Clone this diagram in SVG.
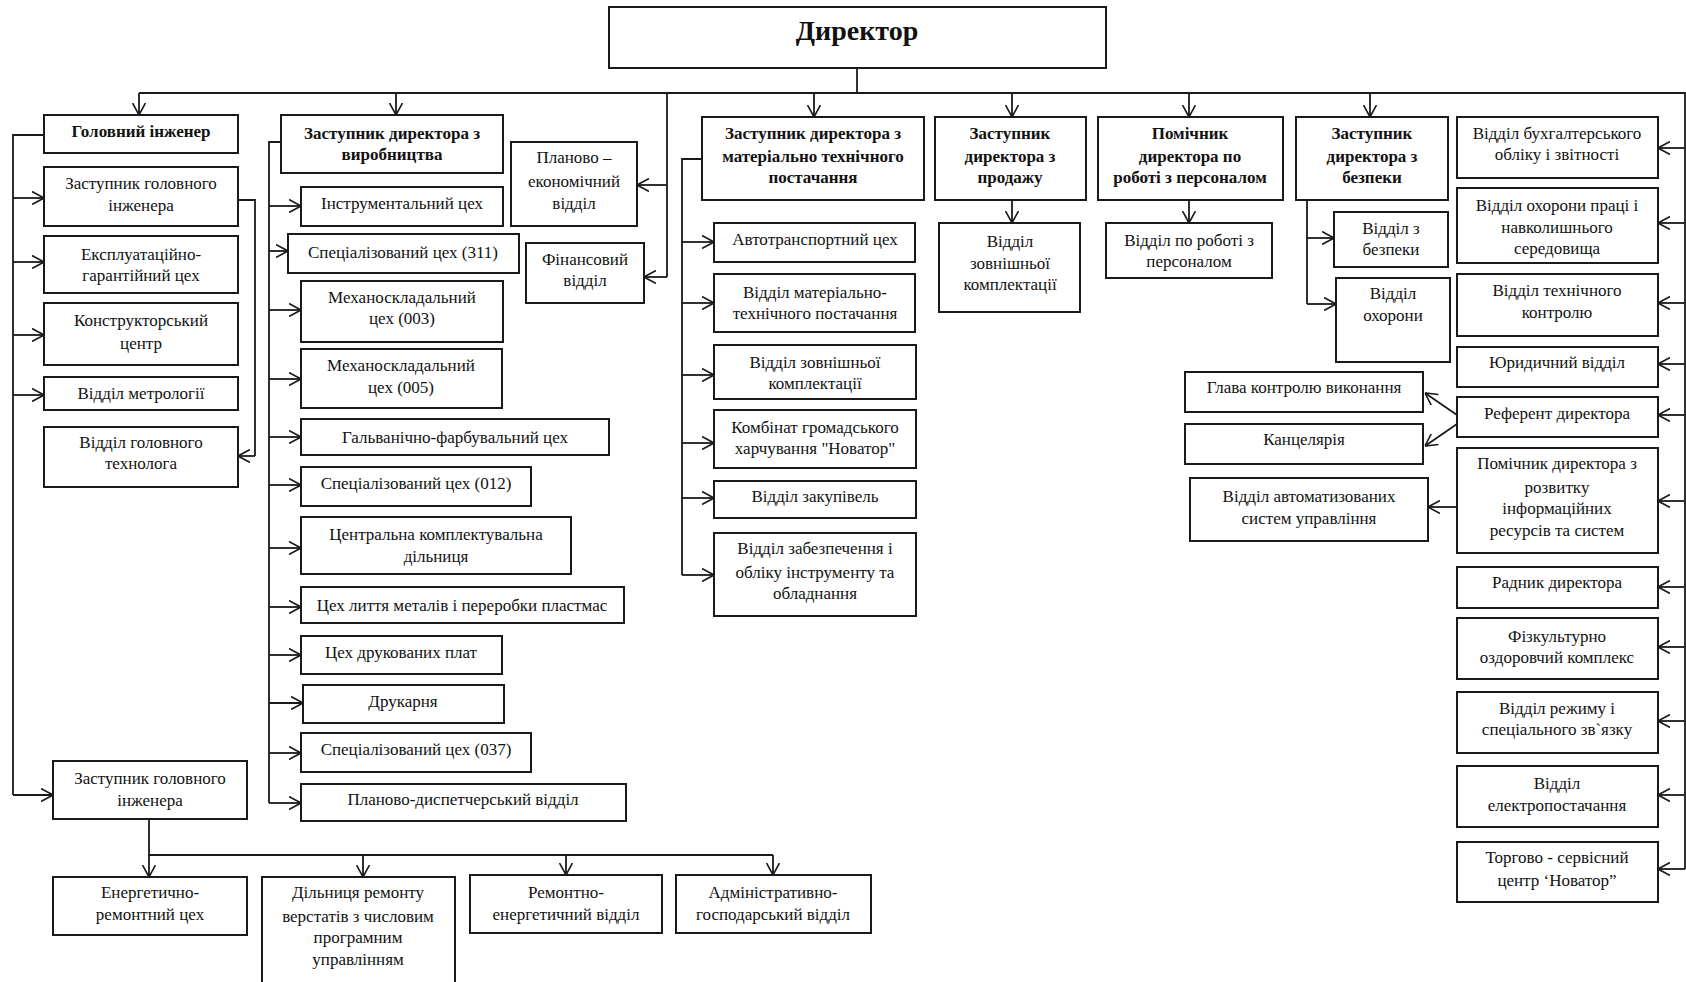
<svg xmlns="http://www.w3.org/2000/svg" width="1686" height="982" viewBox="0 0 1686 982">
<style>
.box{fill:#fff;stroke:#1a1a1a;stroke-width:2}
.t{font-family:"Liberation Serif","Times New Roman",serif;font-size:17px;text-anchor:middle;fill:#111}
.b{font-weight:bold}
.ln{stroke:#1a1a1a;stroke-width:1.8;fill:none}
.ar{marker-end:url(#ah)}
</style>
<defs>
<marker id="ah" viewBox="0 0 12 14" refX="12" refY="7" markerWidth="12" markerHeight="14" markerUnits="userSpaceOnUse" orient="auto">
<path d="M0,0.5 L12,7 L0,13.5" fill="none" stroke="#1a1a1a" stroke-width="1.6"/>
</marker>
</defs>
<rect width="1686" height="982" fill="#fff"/>
<g id="connectors">
<path class="ln" d="M857,68 V93"/>
<path class="ln" d="M139,93 H1685 V869"/>
<path class="ln ar" d="M139,93 V115"/>
<path class="ln ar" d="M396,93 V115"/>
<path class="ln ar" d="M814,93 V117"/>
<path class="ln ar" d="M1012,93 V117"/>
<path class="ln ar" d="M1189,93 V117"/>
<path class="ln ar" d="M1370,93 V117"/>
<path class="ln" d="M667,93 V277"/>
<path class="ln ar" d="M667,185 H637"/>
<path class="ln ar" d="M667,277 H644"/>
<path class="ln" d="M44,135 H13 V795"/>
<path class="ln ar" d="M13,198 H44"/>
<path class="ln ar" d="M13,262 H44"/>
<path class="ln ar" d="M13,335 H44"/>
<path class="ln ar" d="M13,395 H44"/>
<path class="ln ar" d="M13,795 H53"/>
<path class="ln" d="M238,200 H255 V456"/>
<path class="ln ar" d="M255,456 H238"/>
<path class="ln" d="M281,142 H269 V803"/>
<path class="ln ar" d="M269,206 H301"/>
<path class="ln ar" d="M269,251 H288"/>
<path class="ln ar" d="M269,310 H301"/>
<path class="ln ar" d="M269,379 H301"/>
<path class="ln ar" d="M269,437 H301"/>
<path class="ln ar" d="M269,485 H301"/>
<path class="ln ar" d="M269,548 H301"/>
<path class="ln ar" d="M269,607 H301"/>
<path class="ln ar" d="M269,655 H301"/>
<path class="ln ar" d="M269,703 H303"/>
<path class="ln ar" d="M269,753 H301"/>
<path class="ln ar" d="M269,803 H301"/>
<path class="ln" d="M702,159 H682 V575"/>
<path class="ln ar" d="M682,242 H714"/>
<path class="ln ar" d="M682,303 H714"/>
<path class="ln ar" d="M682,375 H714"/>
<path class="ln ar" d="M682,443 H714"/>
<path class="ln ar" d="M682,498 H714"/>
<path class="ln ar" d="M682,575 H714"/>
<path class="ln ar" d="M1012,200 V223"/>
<path class="ln ar" d="M1189,200 V223"/>
<path class="ln" d="M1307,200 V304"/>
<path class="ln ar" d="M1307,238 H1334"/>
<path class="ln ar" d="M1307,304 H1336"/>
<path class="ln ar" d="M1685,148 H1658"/>
<path class="ln ar" d="M1685,223 H1658"/>
<path class="ln ar" d="M1685,303 H1658"/>
<path class="ln ar" d="M1685,364 H1658"/>
<path class="ln ar" d="M1685,415 H1658"/>
<path class="ln ar" d="M1685,501 H1658"/>
<path class="ln ar" d="M1685,587 H1658"/>
<path class="ln ar" d="M1685,647 H1658"/>
<path class="ln ar" d="M1685,721 H1658"/>
<path class="ln ar" d="M1685,795 H1658"/>
<path class="ln ar" d="M1685,869 H1658"/>
<path class="ln ar" d="M1457,415 L1425,393"/>
<path class="ln ar" d="M1457,424 L1425,446"/>
<path class="ln ar" d="M1457,507 H1428"/>
<path class="ln" d="M149,819 V855 H773"/>
<path class="ln ar" d="M149,855 V877"/>
<path class="ln ar" d="M363,855 V877"/>
<path class="ln ar" d="M566,855 V875"/>
<path class="ln ar" d="M773,855 V875"/>
</g>
<g id="director"><rect class="box" x="609" y="7" width="497" height="61"/><text class="t b" x="857" y="40" style="font-size:28px">Директор</text></g>
<g id="gl_inzh"><rect class="box" x="44" y="115" width="194" height="38"/><text class="t b" x="141" y="137">Головний інженер</text></g>
<g id="zast_gl1"><rect class="box" x="44" y="167" width="194" height="59"/><text class="t" x="141" y="189">Заступник головного</text><text class="t" x="141" y="211">інженера</text></g>
<g id="ekspl"><rect class="box" x="44" y="236" width="194" height="57"/><text class="t" x="141" y="260">Експлуатаційно-</text><text class="t" x="141" y="281">гарантійний цех</text></g>
<g id="konstr"><rect class="box" x="44" y="303" width="194" height="62"/><text class="t" x="141" y="326">Конструкторський</text><text class="t" x="141" y="349">центр</text></g>
<g id="metrol"><rect class="box" x="44" y="377" width="194" height="33"/><text class="t" x="141" y="399">Відділ метрології</text></g>
<g id="tekhnol"><rect class="box" x="44" y="427" width="194" height="60"/><text class="t" x="141" y="448">Відділ головного</text><text class="t" x="141" y="469">технолога</text></g>
<g id="zast_gl2"><rect class="box" x="53" y="761" width="194" height="58"/><text class="t" x="150" y="784">Заступник головного</text><text class="t" x="150" y="806">інженера</text></g>
<g id="energ_rem"><rect class="box" x="53" y="877" width="194" height="58"/><text class="t" x="150" y="898">Енергетично-</text><text class="t" x="150" y="920">ремонтний цех</text></g>
<g id="dilnytsia"><rect class="box" x="262" y="877" width="193" height="120"/><text class="t" x="358" y="898">Дільниця ремонту</text><text class="t" x="358" y="922">верстатів з числовим</text><text class="t" x="358" y="943">програмним</text><text class="t" x="358" y="965">управлінням</text></g>
<g id="remont_energ"><rect class="box" x="470" y="875" width="192" height="58"/><text class="t" x="566" y="898">Ремонтно-</text><text class="t" x="566" y="920">енергетичний відділ</text></g>
<g id="admin"><rect class="box" x="676" y="875" width="195" height="58"/><text class="t" x="773" y="898">Адміністративно-</text><text class="t" x="773" y="920">господарський відділ</text></g>
<g id="zast_vyr"><rect class="box" x="281" y="115" width="222" height="58"/><text class="t b" x="392" y="139">Заступник директора з</text><text class="t b" x="392" y="160">виробництва</text></g>
<g id="instr"><rect class="box" x="301" y="187" width="202" height="39"/><text class="t" x="402" y="209">Інструментальний цех</text></g>
<g id="spec311"><rect class="box" x="288" y="234" width="231" height="39"/><text class="t" x="403" y="258">Спеціалізований цех (311)</text></g>
<g id="mekh003"><rect class="box" x="301" y="281" width="202" height="61"/><text class="t" x="402" y="303">Механоскладальний</text><text class="t" x="402" y="324">цех (003)</text></g>
<g id="mekh005"><rect class="box" x="301" y="349" width="201" height="59"/><text class="t" x="401" y="371">Механоскладальний</text><text class="t" x="401" y="393">цех (005)</text></g>
<g id="galv"><rect class="box" x="301" y="419" width="308" height="36"/><text class="t" x="455" y="443">Гальванічно-фарбувальний цех</text></g>
<g id="spec012"><rect class="box" x="301" y="467" width="230" height="39"/><text class="t" x="416" y="489">Спеціалізований цех (012)</text></g>
<g id="central"><rect class="box" x="301" y="517" width="270" height="57"/><text class="t" x="436" y="540">Центральна комплектувальна</text><text class="t" x="436" y="562">дільниця</text></g>
<g id="lyttia"><rect class="box" x="301" y="587" width="323" height="36"/><text class="t" x="462" y="611">Цех лиття металів і переробки пластмас</text></g>
<g id="druk_plat"><rect class="box" x="301" y="636" width="201" height="38"/><text class="t" x="401" y="658">Цех друкованих плат</text></g>
<g id="drukarnia"><rect class="box" x="303" y="685" width="201" height="38"/><text class="t" x="403" y="707">Друкарня</text></g>
<g id="spec037"><rect class="box" x="301" y="733" width="230" height="39"/><text class="t" x="416" y="755">Спеціалізований цех (037)</text></g>
<g id="plan_disp"><rect class="box" x="301" y="784" width="325" height="37"/><text class="t" x="463" y="805">Планово-диспетчерський відділ</text></g>
<g id="plan_ekon"><rect class="box" x="511" y="142" width="126" height="84"/><text class="t" x="574" y="163">Планово –</text><text class="t" x="574" y="187">економічний</text><text class="t" x="574" y="209">відділ</text></g>
<g id="finans"><rect class="box" x="526" y="243" width="118" height="60"/><text class="t" x="585" y="265">Фінансовий</text><text class="t" x="585" y="286">відділ</text></g>
<g id="zast_mts"><rect class="box" x="702" y="117" width="222" height="83"/><text class="t b" x="813" y="139">Заступник директора з</text><text class="t b" x="813" y="162">матеріально технічного</text><text class="t b" x="813" y="183">постачання</text></g>
<g id="avtotrans"><rect class="box" x="714" y="223" width="201" height="39"/><text class="t" x="815" y="245">Автотранспортний цех</text></g>
<g id="vid_mts"><rect class="box" x="714" y="274" width="201" height="58"/><text class="t" x="815" y="298">Відділ матеріально-</text><text class="t" x="815" y="319">технічного постачання</text></g>
<g id="vid_zovn_mts"><rect class="box" x="714" y="345" width="202" height="54"/><text class="t" x="815" y="368">Відділ зовнішньої</text><text class="t" x="815" y="389">комплектації</text></g>
<g id="kombinat"><rect class="box" x="714" y="410" width="202" height="58"/><text class="t" x="815" y="433">Комбінат громадського</text><text class="t" x="815" y="454">харчування "Новатор"</text></g>
<g id="zakup"><rect class="box" x="714" y="481" width="202" height="37"/><text class="t" x="815" y="502">Відділ закупівель</text></g>
<g id="zabezp"><rect class="box" x="714" y="533" width="202" height="83"/><text class="t" x="815" y="554">Відділ забезпечення і</text><text class="t" x="815" y="578">обліку інструменту та</text><text class="t" x="815" y="599">обладнання</text></g>
<g id="zast_prodazh"><rect class="box" x="935" y="117" width="151" height="83"/><text class="t b" x="1010" y="139">Заступник</text><text class="t b" x="1010" y="162">директора з</text><text class="t b" x="1010" y="183">продажу</text></g>
<g id="vid_zovn_prod"><rect class="box" x="939" y="223" width="141" height="89"/><text class="t" x="1010" y="247">Відділ</text><text class="t" x="1010" y="269">зовнішньої</text><text class="t" x="1010" y="290">комплектації</text></g>
<g id="pom_pers"><rect class="box" x="1098" y="117" width="185" height="83"/><text class="t b" x="1190" y="139">Помічник</text><text class="t b" x="1190" y="162">директора по</text><text class="t b" x="1190" y="183">роботі з персоналом</text></g>
<g id="vid_pers"><rect class="box" x="1106" y="223" width="166" height="55"/><text class="t" x="1189" y="246">Відділ по роботі з</text><text class="t" x="1189" y="267">персоналом</text></g>
<g id="zast_bezp"><rect class="box" x="1296" y="117" width="152" height="83"/><text class="t b" x="1372" y="139">Заступник</text><text class="t b" x="1372" y="162">директора з</text><text class="t b" x="1372" y="183">безпеки</text></g>
<g id="vid_bezp"><rect class="box" x="1334" y="212" width="114" height="55"/><text class="t" x="1391" y="234">Відділ з</text><text class="t" x="1391" y="255">безпеки</text></g>
<g id="vid_okh"><rect class="box" x="1336" y="278" width="114" height="84"/><text class="t" x="1393" y="299">Відділ</text><text class="t" x="1393" y="321">охорони</text></g>
<g id="bukh"><rect class="box" x="1457" y="117" width="201" height="61"/><text class="t" x="1557" y="139">Відділ бухгалтерського</text><text class="t" x="1557" y="160">обліку і звітності</text></g>
<g id="okh_pratsi"><rect class="box" x="1457" y="188" width="201" height="75"/><text class="t" x="1557" y="211">Відділ охорони праці і</text><text class="t" x="1557" y="233">навколишнього</text><text class="t" x="1557" y="254">середовища</text></g>
<g id="tekh_kontr"><rect class="box" x="1457" y="274" width="201" height="62"/><text class="t" x="1557" y="296">Відділ технічного</text><text class="t" x="1557" y="318">контролю</text></g>
<g id="yuryd"><rect class="box" x="1457" y="347" width="201" height="40"/><text class="t" x="1557" y="368">Юридичний відділ</text></g>
<g id="referent"><rect class="box" x="1457" y="397" width="201" height="40"/><text class="t" x="1557" y="419">Референт директора</text></g>
<g id="pom_rozv"><rect class="box" x="1457" y="448" width="201" height="105"/><text class="t" x="1557" y="469">Помічник директора з</text><text class="t" x="1557" y="493">розвитку</text><text class="t" x="1557" y="514">інформаційних</text><text class="t" x="1557" y="536">ресурсів та систем</text></g>
<g id="radnyk"><rect class="box" x="1457" y="567" width="201" height="41"/><text class="t" x="1557" y="588">Радник директора</text></g>
<g id="fizkult"><rect class="box" x="1457" y="618" width="201" height="61"/><text class="t" x="1557" y="642">Фізкультурно</text><text class="t" x="1557" y="663">оздоровчий комплекс</text></g>
<g id="rezhym"><rect class="box" x="1457" y="692" width="201" height="61"/><text class="t" x="1557" y="714">Відділ режиму і</text><text class="t" x="1557" y="735">спеціального зв`язку</text></g>
<g id="elektro"><rect class="box" x="1457" y="766" width="201" height="61"/><text class="t" x="1557" y="789">Відділ</text><text class="t" x="1557" y="811">електропостачання</text></g>
<g id="torgovo"><rect class="box" x="1457" y="842" width="201" height="60"/><text class="t" x="1557" y="863">Торгово - сервісний</text><text class="t" x="1557" y="886">центр ‘Новатор”</text></g>
<g id="glava"><rect class="box" x="1185" y="372" width="238" height="40"/><text class="t" x="1304" y="393">Глава контролю виконання</text></g>
<g id="kantsel"><rect class="box" x="1185" y="424" width="238" height="40"/><text class="t" x="1304" y="445">Канцелярія</text></g>
<g id="asu"><rect class="box" x="1190" y="478" width="238" height="63"/><text class="t" x="1309" y="502">Відділ автоматизованих</text><text class="t" x="1309" y="524">систем управління</text></g>
</svg>
